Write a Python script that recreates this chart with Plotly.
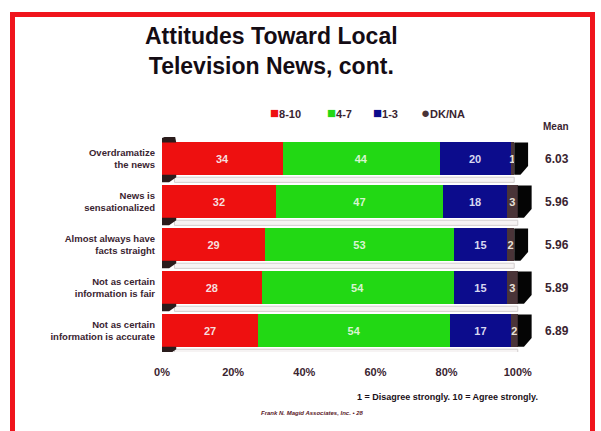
import plotly.graph_objects as go

# Survey statements and the share of answers in each rating band (percent)
statements = [
    "Overdramatize<br>the news",
    "News is<br>sensationalized",
    "Almost always have<br>facts straight",
    "Not as certain<br>information is fair",
    "Not as certain<br>information is accurate",
]
rating_8_10 = [34, 32, 29, 28, 27]
rating_4_7 = [44, 47, 53, 54, 54]
rating_1_3 = [20, 18, 15, 15, 17]
dk_na = [1, 3, 2, 3, 2]
means = ["6.03", "5.96", "5.96", "5.89", "6.89"]
x_ticks = [0, 20, 40, 60, 80, 100]
x_tick_labels = ["0%", "20%", "40%", "60%", "80%", "100%"]

series = [
    ("8-10", rating_8_10, "#ee1010", "#f6dede"),
    ("4-7", rating_4_7, "#22d814", "#d8f5d0"),
    ("1-3", rating_1_3, "#0c0c8c", "#d8d8f0"),
    ("DK/NA", dk_na, "#4a3438", "#e8e0d8"),
]

W, H = 601, 431
L, R, T, B = 162, 532, 137, 352          # plot area in pixels
X_MAX = 104                               # room for the bar depth past 100%


def px(xp):
    return (xp - L) / (R - L)


def py(yp):
    return (B - yp) / (B - T)


fig = go.Figure()
for name, vals, color, txt in series:
    fig.add_trace(go.Bar(
        y=list(range(len(statements))),
        x=vals,
        name=name,
        orientation="h",
        marker=dict(color=color, line=dict(width=0)),
        text=[f"<b>{v}</b>" for v in vals],
        textposition="inside",
        insidetextanchor="middle",
        textangle=0,
        insidetextfont=dict(family="Liberation Sans", size=11, color=txt),
        constraintext="none",
        width=0.75,
        hoverinfo="skip",
        showlegend=False,
    ))

# 3-D look: dark end cap on the right and a pale floor under each bar
shapes = []
depth = 3.9
half = 0.375
for i in range(len(statements)):
    total = rating_8_10[i] + rating_4_7[i] + rating_1_3[i] + dk_na[i]
    top, bot = i - half, i + half
    shapes.append(dict(
        type="path", xref="x", yref="y", layer="above",
        path=(f"M {total},{top} L {total + depth},{top} "
              f"L {total + depth},{bot - 0.2} L {total + depth * 0.45},{bot} "
              f"L {total},{bot} Z"),
        fillcolor="#050505", line=dict(width=0),
    ))
    shapes.append(dict(
        type="rect", xref="x", yref="y", layer="below",
        x0=3.5, x1=total, y0=bot + 0.06, y1=bot + 0.18,
        fillcolor="#f6f3f3", line=dict(color="#d2cdcd", width=1),
    ))
    shapes.append(dict(
        type="path", xref="x", yref="y", layer="above",
        path=f"M 0,{bot} L 4,{bot} L 4,{bot + 0.06} L 2,{bot + 0.18} L 0,{bot + 0.18} Z",
        fillcolor="#2a1c1c", line=dict(width=0),
    ))
# wedge above the first bar
shapes.append(dict(
    type="path", xref="x", yref="y", layer="above",
    path=f"M 0,{-half} L 0,{-half - 0.1} L 3.5,{-half - 0.22} L 4,{-half} Z",
    fillcolor="#2a1c1c", line=dict(width=0),
))

# red frame around the slide
frame = "#f0141c"
shapes += [
    dict(type="rect", xref="paper", yref="paper", layer="above",
         x0=px(10), x1=px(15), y0=py(440), y1=py(12),
         fillcolor=frame, line=dict(width=0)),
    dict(type="rect", xref="paper", yref="paper", layer="above",
         x0=px(10), x1=px(595), y0=py(17), y1=py(12),
         fillcolor=frame, line=dict(width=0)),
    dict(type="rect", xref="paper", yref="paper", layer="above",
         x0=px(590), x1=px(595), y0=py(440), y1=py(12),
         fillcolor=frame, line=dict(width=0)),
]

ink = "#3a2430"
annotations = [
    dict(xref="paper", yref="paper", x=px(271), y=py(51), showarrow=False,
         text="<b>Attitudes Toward Local<br>Television News, cont.</b>",
         font=dict(family="Liberation Sans", size=23, color="#140c14"),
         align="center", xanchor="center", yanchor="middle"),
    dict(xref="paper", yref="paper", x=px(556), y=py(126), showarrow=False,
         text="<b>Mean</b>", font=dict(family="Liberation Sans", size=10, color=ink),
         xanchor="center", yanchor="middle"),
    dict(xref="paper", yref="paper", x=px(540), y=py(397), showarrow=False,
         text="<b>1 = Disagree strongly. 10 = Agree strongly.</b>",
         font=dict(family="Liberation Sans", size=9, color="#1a1018"),
         xanchor="right", yanchor="middle"),
    dict(xref="paper", yref="paper", x=px(312), y=py(413), showarrow=False,
         text="<b><i>Frank N. Magid Associates, Inc. • 28</i></b>",
         font=dict(family="Liberation Sans", size=6, color="#5a2028"),
         xanchor="center", yanchor="middle"),
]
for i, m in enumerate(means):
    annotations.append(dict(
        xref="paper", yref="y", x=px(557), y=i, showarrow=False, text=f"<b>{m}</b>",
        font=dict(family="Liberation Sans", size=12, color=ink),
        xanchor="center", yanchor="middle"))

# key row above the bars
key_x = [268, 325, 371, 419]
for (name, _, color, _), kx in zip(series, key_x):
    mark = "●" if name == "DK/NA" else "■"
    annotations.append(dict(
        xref="paper", yref="paper", x=px(kx), y=py(112), showarrow=False,
        text=f"<span style='color:{color};font-size:15px'>{mark}</span><b>{name}</b>",
        font=dict(family="Liberation Sans", size=11, color=ink),
        xanchor="left", yanchor="middle"))

fig.update_layout(
    width=W, height=H,
    margin=dict(l=L, r=W - R, t=T, b=H - B, pad=0),
    paper_bgcolor="white", plot_bgcolor="white",
    barmode="stack", bargap=0.25,
    showlegend=False,
    shapes=shapes,
    annotations=annotations,
    xaxis=dict(range=[0, X_MAX], tickvals=x_ticks,
               ticktext=[f"<b>{t}</b>" for t in x_tick_labels],
               showgrid=False, zeroline=False, showline=False, ticks="",
               ticklabelstandoff=12,
               tickfont=dict(family="Liberation Sans", size=11, color=ink)),
    yaxis=dict(range=[len(statements) - 0.5, -0.5],
               tickvals=list(range(len(statements))),
               ticktext=[f"<b>{s}</b>" for s in statements],
               showgrid=False, zeroline=False, showline=False, ticks="",
               ticklabelstandoff=6,
               tickfont=dict(family="Liberation Sans", size=9.5, color=ink)),
)

fig.write_html("out.html")
